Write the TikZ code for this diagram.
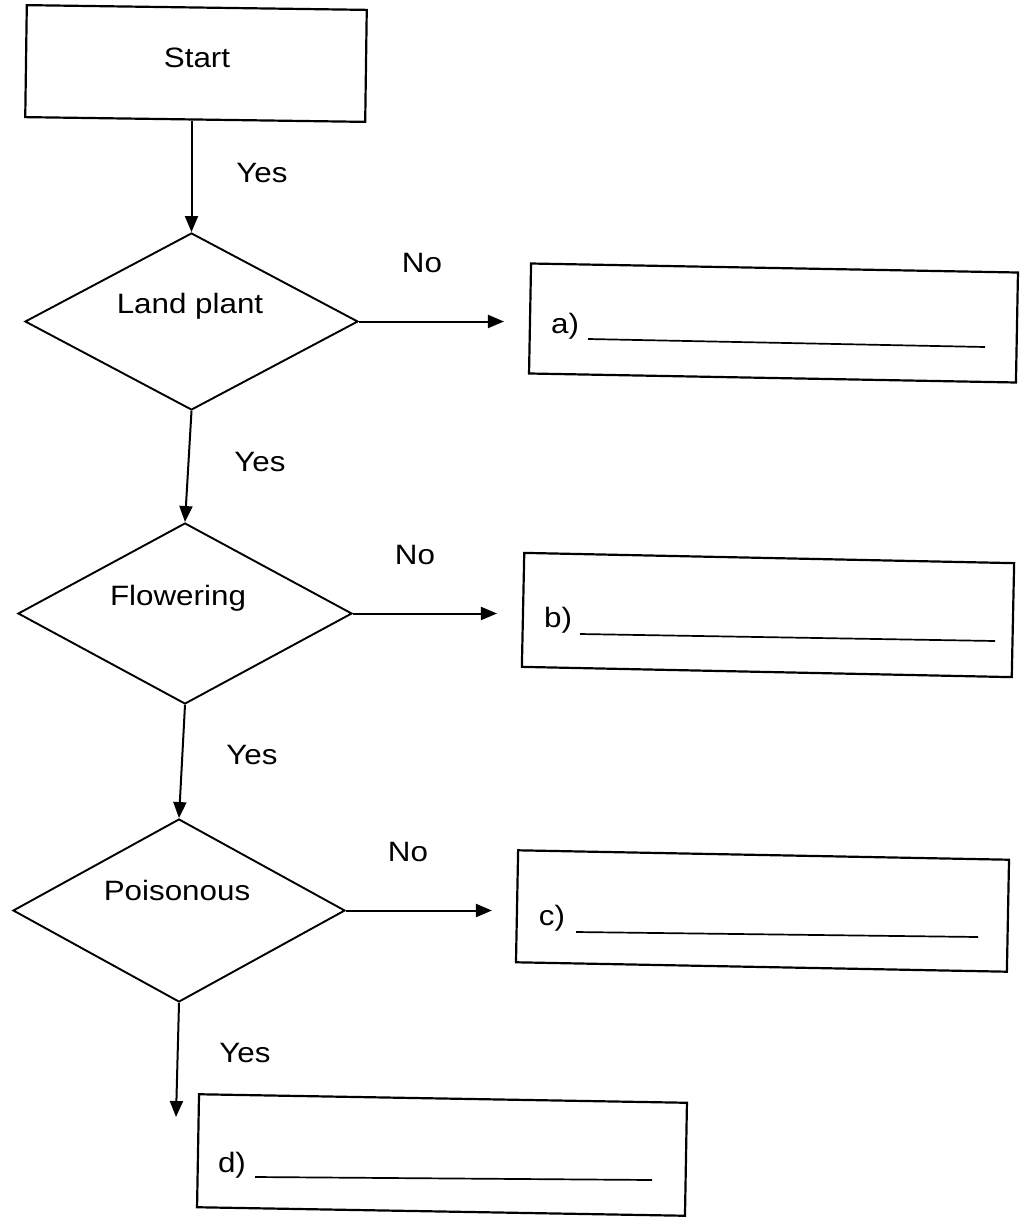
\documentclass[tikz,border=0pt]{standalone}
\usepackage{fontspec}
\newfontfamily\lbfont[FakeStretch=1.12]{Liberation Sans}
\usetikzlibrary{arrows.meta,shapes.geometric}
\tikzset{
  box/.style={draw, line width=2.2pt, inner sep=0pt},
  dec/.style={draw, shape=diamond, line width=1.9pt, inner sep=0pt},
  lbl/.style={font=\lbfont\fontsize{28}{30}\selectfont, anchor=base, inner sep=0pt},
  arr/.style={-{Triangle[length=16pt,width=13pt]}, line width=2pt},
  blank/.style={line width=1.7pt}
}
\begin{document}
\begin{tikzpicture}[x=1pt,y=-1pt]
\useasboundingbox (0,0) rectangle (1025,1218);
% start box
\node[box, minimum width=340pt, minimum height=112pt, rotate=-0.8] (start) at (196,63.5) {};
\node[lbl] (starttxt) at (197,67) {Start};
% decisions
\node[dec, minimum width=333pt, minimum height=177pt] (d1) at (191.5,321.5) {};
\node[lbl] (d1txt) at (190,313) {Land plant};
\node[dec, minimum width=334pt, minimum height=181pt] (d2) at (185,613.5) {};
\node[lbl] (d2txt) at (178,605) {Flowering};
\node[dec, minimum width=332pt, minimum height=183pt] (d3) at (179,910.5) {};
\node[lbl] (d3txt) at (177,900) {Poisonous};
% answer boxes
\node[box, minimum width=487pt, minimum height=110pt, rotate=-1.06] (a) at (773.5,323) {};
\node[lbl] (atxt) at (565,333) {a)};
\draw[blank] (588,339) -- (985,347);
\node[box, minimum width=490pt, minimum height=114pt, rotate=-1.2] (b) at (768,615) {};
\node[lbl] (btxt) at (558,627) {b)};
\draw[blank] (580,634) -- (995,641);
\node[box, minimum width=491pt, minimum height=112pt, rotate=-1.1] (c) at (762.5,911) {};
\node[lbl] (ctxt) at (552,925) {c)};
\draw[blank] (576,932) -- (978,937);
\node[box, minimum width=488pt, minimum height=113pt, rotate=-1.0] (d) at (442,1155) {};
\node[lbl] (dtxt) at (232,1172) {d)};
\draw[blank] (255,1177) -- (652,1180);
% connectors
\coordinate (dend) at (176,1117);
\draw[arr] (d1.north |- start.south) -- (d1.north);
\draw[arr] (d1.south) -- (d2.north);
\draw[arr] (d2.south) -- (d3.north);
\draw[arr] (d3.south) -- (dend);
\draw[arr, shorten >=25pt] (d1.east) -- (d1.east -| a.west);
\draw[arr, shorten >=25pt] (d2.east) -- (d2.east -| b.west);
\draw[arr, shorten >=24pt] (d3.east) -- (d3.east -| c.west);
% labels
\node[lbl] (y1) at (262,182) {Yes};
\node[lbl] (y2) at (260,471) {Yes};
\node[lbl] (y3) at (252,764) {Yes};
\node[lbl] (y4) at (245,1062) {Yes};
\node[lbl] (n1) at (422,272) {No};
\node[lbl] (n2) at (415,564) {No};
\node[lbl] (n3) at (408,861) {No};
\end{tikzpicture}
\end{document}
